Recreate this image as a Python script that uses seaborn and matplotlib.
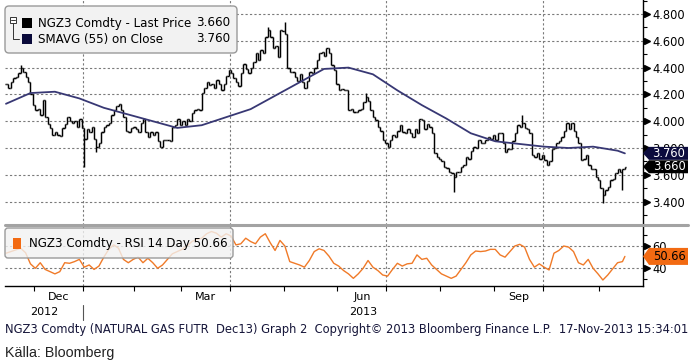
import numpy as np
import pandas as pd
import seaborn as sns
import matplotlib.pyplot as plt
from matplotlib.patches import FancyBboxPatch, Polygon, Rectangle
from matplotlib.lines import Line2D
from matplotlib.transforms import Affine2D

sns.set_theme(style='white')
plt.rcParams['font.family'] = ['DejaVu Sans']

# NYMEX holidays in the window
holidays = ['2012-11-22', '2012-12-25', '2013-01-01', '2013-01-21', '2013-02-18',
            '2013-03-29', '2013-05-27', '2013-07-04', '2013-09-02']
dates = pd.bdate_range('2012-11-14', '2013-11-15', freq='C', holidays=holidays)

# daily close, NGZ3
close = [4.28, 4.25, 4.29, 4.32, 4.33, 4.36, 4.40, 4.37, 4.33, 4.29, 4.20, 4.12, 4.08, 4.09, 4.05, 4.16,
         4.03, 3.98, 3.95, 3.90, 3.92, 3.90, 3.89, 3.95, 3.98, 4.03, 4.00, 3.99, 4.00, 3.96, 4.02, 3.95,
         3.87, 3.94, 3.92, 3.96, 3.87, 3.81, 3.84, 3.92, 3.96, 3.97, 3.99, 4.05, 4.08, 4.11, 4.13, 4.08,
         4.03, 3.93, 3.92, 3.95, 3.96, 3.94, 3.92, 3.99, 4.02, 3.92, 3.88, 3.92, 3.90, 3.92, 3.85, 3.81,
         3.86, 3.86, 3.86, 3.85, 3.96, 3.97, 4.02, 3.97, 4.00, 3.97, 4.02, 4.00, 4.06, 4.08, 4.09, 4.08,
         4.21, 4.25, 4.29, 4.27, 4.28, 4.25, 4.31, 4.28, 4.23, 4.28, 4.34, 4.38, 4.36, 4.32, 4.29, 4.26,
         4.36, 4.43, 4.39, 4.36, 4.40, 4.44, 4.51, 4.46, 4.53, 4.51, 4.63, 4.68, 4.63, 4.55, 4.56,
         4.48, 4.68, 4.67, 4.65, 4.40, 4.37, 4.37, 4.33, 4.30, 4.35, 4.29, 4.25, 4.30, 4.37, 4.36, 4.40,
         4.46, 4.51, 4.52, 4.49, 4.55, 4.51, 4.42, 4.38, 4.28, 4.23, 4.24, 4.23, 4.23, 4.08, 4.09, 4.07,
         4.07, 4.08, 4.09, 4.14, 4.18, 4.15, 4.08, 4.03, 4.01, 3.96, 3.93, 3.86, 3.84, 3.81, 3.86, 3.90,
         3.88, 3.93, 3.97, 3.92, 3.91, 3.94, 3.91, 3.88, 3.94, 3.91, 4.02, 4.01, 3.94, 3.98, 3.96, 3.91,
         3.76, 3.73, 3.72, 3.70, 3.66, 3.65, 3.62, 3.61, 3.58, 3.62, 3.62, 3.66, 3.67, 3.73, 3.72, 3.78,
         3.81, 3.80, 3.86, 3.84, 3.84, 3.86, 3.88, 3.87, 3.90, 3.86, 3.91, 3.91, 3.84, 3.77, 3.79,
         3.79, 3.85, 3.91, 3.97, 3.96, 3.99, 3.95, 3.94, 3.91, 3.75, 3.73, 3.76, 3.72, 3.75, 3.71, 3.67,
         3.70, 3.79, 3.80, 3.84, 3.85, 3.88, 3.93, 3.99, 3.94, 3.99, 3.93, 3.88, 3.84, 3.71, 3.72, 3.75,
         3.67, 3.64, 3.64, 3.58, 3.56, 3.50, 3.45, 3.49, 3.51, 3.56, 3.57, 3.61, 3.64, 3.62, 3.64, 3.66]

# intraday extremes that stick out of the bars
spike_dates = ['2012-11-23', '2013-01-02', '2013-01-09', '2013-04-22', '2013-05-01',
               '2013-06-18', '2013-08-08', '2013-09-18', '2013-11-04', '2013-11-14']
spike_vals = [4.42, 3.66, 3.77, 4.70, 4.74, 4.21, 3.47, 4.05, 3.39, 3.49]

# 55 day moving average, read every 10 sessions
sma_step = 10
sma_vals = [4.13, 4.21, 4.22, 4.17, 4.10, 4.05, 4.00, 3.95, 3.97, 4.03, 4.09, 4.19, 4.29, 4.39,
            4.40, 4.35, 4.23, 4.12, 4.02, 3.91, 3.85, 3.83, 3.81, 3.80, 3.81, 3.78, 3.76]

# RSI 14, read every 2 sessions
rsi_step = 2
rsi_vals = [53.5, 55, 56.5, 58, 54, 44, 40, 45, 39, 37, 35, 37, 45, 44.5, 46, 48, 41, 43, 39, 42,
            50, 57, 61, 58, 48, 45, 48, 50, 45, 49, 45, 40, 43, 48, 53, 55, 57, 60, 64, 66,
            67, 71, 73, 71.5, 68, 71, 69, 61, 62, 67, 64, 62, 68, 71, 63, 56, 65, 60, 46, 44.5,
            43, 41, 47, 55, 57.5, 56, 51, 44.5, 42, 38, 35, 31, 35, 40, 47, 41, 38, 34, 33, 39,
            44.5, 42, 44, 44.5, 52, 48, 49, 43, 39, 35, 33, 31, 33, 39, 45, 52, 55.5, 55, 55.5, 57,
            57, 52, 50, 55, 60, 61.5, 59, 48, 41, 44, 41, 38.5, 53.5, 56, 60, 59, 55, 45, 43, 48,
            40, 35, 29.5, 34, 39.5, 45, 46, 50.66]

last_price = 3.660
last_sma = 3.760
last_rsi = 50.66

df = pd.DataFrame({'date': dates, 'close': close})
df['pos'] = np.arange(len(df))
df['open'] = df['close'].shift(1).fillna(df['close'].iloc[0])
df['high'] = df[['open', 'close']].max(axis=1)
df['low'] = df[['open', 'close']].min(axis=1)
for d, v in zip(pd.to_datetime(spike_dates), spike_vals):
    m = df['date'] == d
    df.loc[m, 'high'] = np.maximum(df.loc[m, 'high'], v)
    df.loc[m, 'low'] = np.minimum(df.loc[m, 'low'], v)

sma_pos = list(df['pos'].iloc[::sma_step]) + [df['pos'].iloc[-1]]
rsi_pos = list(df['pos'].iloc[::rsi_step]) + [df['pos'].iloc[-1]]

# month boundaries
first = df.groupby(df['date'].dt.to_period('M'))['pos'].min()
bounds = {p: v - 0.5 for p, v in first.items()}
months = list(bounds.keys())[1:]

W, H = 693, 361
fig = plt.figure(figsize=(W / 100, H / 100), dpi=100)
px = Affine2D().scale(1 / 100, -1 / 100).translate(0, H / 100) + fig.dpi_scale_trans

ax = fig.add_axes([5 / W, 1 - 225 / H, 638 / W, 225 / H])
ax2 = fig.add_axes([5 / W, 1 - 286 / H, 638 / W, 61 / H])

xlim = (-0.4, 260.4)
p_lim = (3.2254, 4.9045)
r_lim = (24.12, 78.84)
grid_kw = dict(color='#7a7a7a', lw=0.8, ls=(0, (2, 2)), zorder=0)

# price bars
bar_kw = dict(color='black', lw=1.05, zorder=3)
ax.vlines(df['pos'], df['low'], df['high'], **bar_kw)
ax.hlines(df['open'], df['pos'] - 0.55, df['pos'], **bar_kw)
ax.hlines(df['close'], df['pos'], df['pos'] + 0.55, **bar_kw)
sns.lineplot(x=sma_pos, y=sma_vals, ax=ax, color='#383874', lw=1.3, zorder=4)

sns.lineplot(x=rsi_pos, y=rsi_vals, ax=ax2, color='#f07a28', lw=1.0, zorder=3)

price_ticks = np.round(np.arange(3.4, 4.81, 0.2), 1)
for a, lim, yt, ymin in [(ax, p_lim, price_ticks, np.round(np.arange(3.3, 4.95, 0.2), 1)),
                         (ax2, r_lim, [40, 60], [30, 50, 70])]:
    a.set_xlim(*xlim)
    a.set_ylim(*lim)
    a.set_xlabel('')
    a.set_ylabel('')
    for s in ['left', 'top', 'bottom']:
        a.spines[s].set_visible(False)
    a.spines['right'].set_color('black')
    a.spines['right'].set_linewidth(1.0)
    a.yaxis.tick_right()
    a.set_yticks(yt)
    a.set_yticks(ymin, minor=True)
    a.tick_params(axis='y', which='major', length=0, pad=6.8, labelsize=8.3, labelcolor='black')
    a.tick_params(axis='y', which='minor', right=True, length=3, width=0.8, color='black',
                  direction='out')
    for y in yt:
        a.axhline(y, **grid_kw)
    a.plot(np.full(len(yt), 1 + 3.5 / 638), yt, ls='none', marker='>', ms=5, color='black',
           transform=a.get_yaxis_transform(), clip_on=False, zorder=5)
    for p in months:
        if p.month in (1, 4, 7, 10):
            a.axvline(bounds[p], **grid_kw)

ax.set_yticklabels([f'{v:.3f}' for v in price_ticks])
ax2.set_yticklabels(['40', '60'])
ax.set_xticks([])

ax2.spines['bottom'].set_visible(True)
ax2.spines['bottom'].set_color('black')
ax2.spines['bottom'].set_linewidth(1.0)
ax2.set_xticks([bounds[p] for p in months])
ax2.set_xticklabels([])
ax2.tick_params(axis='x', bottom=True, length=3.8, width=0.8, color='black', direction='out')

# month and year labels
per = list(bounds.keys())
for i, p in enumerate(per[:-1]):
    if p.month in (12, 3, 6, 9):
        c = (bounds[p] + bounds[per[i + 1]]) / 2
        ax2.annotate(p.strftime('%b'), xy=(c, 0), xycoords=('data', 'axes fraction'),
                     xytext=(0, -8.2), textcoords='offset points', ha='center', va='center',
                     fontsize=8, color='black')
jan = bounds[pd.Period('2013-01', 'M')]
for yr, c in [('2012', (xlim[0] + jan) / 2), ('2013', (jan + xlim[1]) / 2)]:
    ax2.annotate(yr, xy=(c, 0), xycoords=('data', 'axes fraction'), xytext=(0, -19),
                 textcoords='offset points', ha='center', va='center', fontsize=8, color='black')
fig.add_artist(Line2D([82.5, 82.5], [305, 320], transform=px, color='#555555', lw=0.8))


# value flags on the right axis
def flag(a, v, lim, hpx, fc, tc, txt):
    dy = hpx / 2 * (lim[1] - lim[0]) / (a.bbox.height)
    x0, x1, x2 = 1.0, 1 + 6 / 638, 1 + 45 / 638
    poly = Polygon([(x0, v), (x1, v + dy), (x2, v + dy), (x2, v - dy), (x1, v - dy)],
                   closed=True, fc=fc, ec='none', transform=a.get_yaxis_transform(),
                   clip_on=False, zorder=6)
    a.add_patch(poly)
    a.text(1 + 26 / 638, v, txt, transform=a.get_yaxis_transform(), ha='center', va='center',
           fontsize=8.3, color=tc, zorder=7, clip_on=False)


flag(ax, last_sma, p_lim, 13, '#0b0b3d', 'white', f'{last_sma:.3f}')
flag(ax, last_price, p_lim, 13, '#000000', 'white', f'{last_price:.3f}')
flag(ax2, last_rsi, r_lim, 17, '#f26a12', 'black', f'{last_rsi:.2f}')

# panel separator
fig.add_artist(Line2D([5, 688], [225, 225], transform=px, color='#a3a3a3', lw=2.2, zorder=8))

# price legend
fig.add_artist(FancyBboxPatch((5, 6), 232, 47, boxstyle='round,pad=0,rounding_size=4',
                              transform=px, fc='#f2f2f2', ec='#9a9a9a', lw=1.0, zorder=9))
fig.add_artist(Rectangle((9.5, 17), 6, 6, transform=px, fc='white', ec='#333333', lw=0.7, zorder=10))
fig.add_artist(Line2D([10.5, 14.5], [20, 20], transform=px, color='#333333', lw=0.7, zorder=11))
fig.add_artist(Line2D([12.5, 12.5, 19], [23, 39, 39], transform=px, color='#333333', lw=0.7, zorder=10))
fig.add_artist(Rectangle((22, 17.5), 10, 10, transform=px, fc='black', ec='none', zorder=10))
fig.add_artist(Rectangle((22, 34), 10, 10, transform=px, fc='#0a0a3a', ec='none', zorder=10))
leg_kw = dict(transform=px, fontsize=8.6, color='black', va='center', zorder=11)
fig.text(38, 23, 'NGZ3 Comdty - Last Price', ha='left', **leg_kw)
fig.text(230, 23, f'{last_price:.3f}', ha='right', **leg_kw)
fig.text(38, 39, 'SMAVG (55) on Close', ha='left', **leg_kw)
fig.text(230, 39, f'{last_sma:.3f}', ha='right', **leg_kw)

# rsi legend
fig.add_artist(FancyBboxPatch((5, 228), 228, 30, boxstyle='round,pad=0,rounding_size=3',
                              transform=px, fc=(0.95, 0.95, 0.95, 0.8), ec='#9a9a9a', lw=1.0,
                              zorder=9))
fig.add_artist(Rectangle((13, 237.5), 8, 11, transform=px, fc='#f26a12', ec='none', zorder=10))
fig.text(29, 243, f'NGZ3 Comdty - RSI 14 Day {last_rsi:.2f}', ha='left', **leg_kw)

# footer
fig.text(5, 330, 'NGZ3 Comdty (NATURAL GAS FUTR  Dec13) Graph 2  Copyright\u00a9 2013 '
         'Bloomberg Finance L.P.  17-Nov-2013 15:34:01', transform=px, fontsize=8.3,
         color='#16163a', ha='left', va='center')
fig.text(5, 353, 'Källa: Bloomberg', transform=px, fontsize=10.3, color='#222222', ha='left',
         va='center', family=['Liberation Sans', 'DejaVu Sans'])

fig.savefig('out.png', dpi=100)
